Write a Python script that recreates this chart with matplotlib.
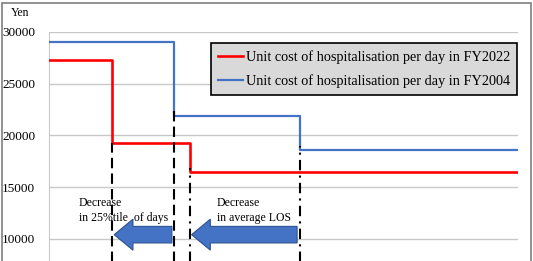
import matplotlib
matplotlib.use("Agg")
import matplotlib.pyplot as plt
from matplotlib.patches import FancyArrow, Rectangle

plt.rcParams['font.family'] = ['Liberation Serif', 'DejaVu Serif']

# ─── Data (x in relative position units 0-100) ────────────────────────────────
x_2022 = [0, 13.4, 30.1, 100]
cost_2022 = [27300, 19300, 16450, 16450]
x_2004 = [0, 26.65, 53.5, 100]
cost_2004 = [29000, 21900, 18600, 18600]

label_2022 = "Unit cost of hospitalisation per day in FY2022"
label_2004 = "Unit cost of hospitalisation per day in FY2004"

# vertical guide lines: x, top value, style
guide_x = [13.4, 26.65, 30.1, 53.5]
guide_top = [19300, 22600, 16800, 19000]
guide_style = ["dash", "dash", "dashdot", "dashdot"]

# arrows: tail x, tip x, centre value
arrow_tail = [26.2, 52.9]
arrow_tip = [13.9, 30.4]
arrow_y = 10400

note_x = [6.3, 35.8]
note_text = ["Decrease\nin 25%tile  of days", "Decrease\nin average LOS"]

yticks = [10000, 15000, 20000, 25000, 30000]

# ─── Figure ──────────────────────────────────────────────────────────────────
W, H = 533, 261
fig = plt.figure(figsize=(W / 100, H / 100), dpi=100)
ax = fig.add_axes([49 / W, 1 - 342.2 / H, (518 - 49) / W, (342.2 - 32) / H])
ax.set_xlim(0, 100)
ax.set_ylim(0, 30000)

ax.set_yticks(yticks)
ax.set_yticklabels([str(v) for v in yticks], fontsize=9.5)
ax.tick_params(axis="y", length=0, pad=10)
ax.set_xticks([])
ax.grid(axis="y", color="#c8c8c8", lw=1)
ax.set_axisbelow(True)
for s in ["top", "right", "bottom"]:
    ax.spines[s].set_visible(False)
ax.spines["left"].set_color("#c8c8c8")

ax.plot(x_2022, cost_2022, drawstyle="steps-post", color="#ff0000", lw=1.9,
        label=label_2022, zorder=3)
ax.plot(x_2004, cost_2004, drawstyle="steps-post", color="#4472c4", lw=1.6,
        label=label_2004, zorder=3)

styles = {"dash": (0, (5, 2.5)), "dashdot": (0, (5, 2.5, 1, 2.5))}
for gx, top, st in zip(guide_x, guide_top, guide_style):
    ax.plot([gx, gx], [0, top], color="black", lw=1.5, ls=styles[st], zorder=4)

for tail, tip in zip(arrow_tail, arrow_tip):
    ax.add_patch(FancyArrow(tail, arrow_y, tip - tail, 0, width=1600,
                            head_width=3000, head_length=4.0,
                            length_includes_head=True, fc="#4472c4",
                            ec="#2f528f", lw=0.8, zorder=5))

for nx, txt in zip(note_x, note_text):
    ax.text(nx, 14000, txt, fontsize=8.5, va="top", ha="left",
            linespacing=1.3, zorder=6)

leg = ax.legend(loc="upper right", bbox_to_anchor=(517 / W, 1 - 43 / H),
                bbox_transform=fig.transFigure, fontsize=10.3, frameon=True,
                fancybox=False, framealpha=1, facecolor="#d9d9d9",
                edgecolor="black", borderaxespad=0, handlelength=1.75,
                handletextpad=0.15, labelspacing=0.7, borderpad=0.5)
leg.get_frame().set_linewidth(1.2)

fig.text(11 / W, 1 - 13 / H, "Yen", fontsize=8.5, va="center", ha="left")

fig.patches.append(Rectangle((1.5 / W, -0.1), 529.5 / W, 1.1 - 2.5 / H,
                             transform=fig.transFigure, fill=False,
                             ec="#7f7f7f", lw=1.2))

fig.savefig("out.png", dpi=100)
